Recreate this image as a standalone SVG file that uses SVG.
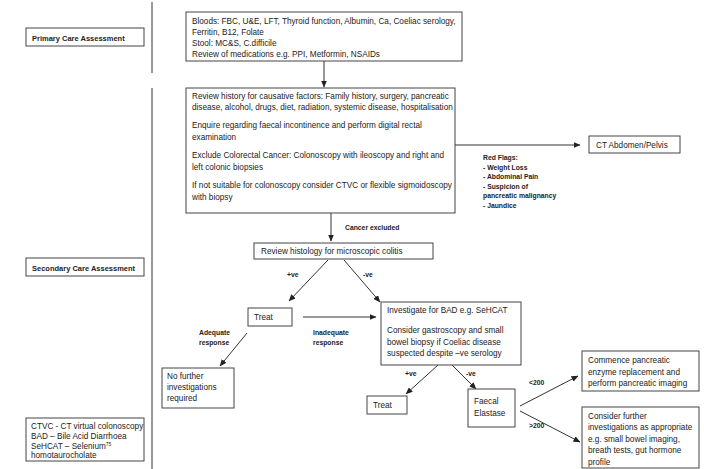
<svg xmlns="http://www.w3.org/2000/svg" width="704" height="469" viewBox="0 0 704 469">
<style>
.box{fill:#fff;stroke:#444;stroke-width:1}
.t{font-family:"Liberation Sans",Arial,sans-serif;font-size:8.2px;fill:#222}
.b{font-family:"Liberation Sans",Arial,sans-serif;font-size:7.5px;font-weight:bold;fill:#222}
.rf{font-family:"Liberation Sans",Arial,sans-serif;font-size:6.8px;font-weight:bold;fill:#222}
.c{stroke:#333;stroke-width:1;fill:none}
</style>
<defs>
<marker id="ah" markerWidth="7" markerHeight="6" refX="6.5" refY="3" orient="auto" markerUnits="userSpaceOnUse">
<path d="M0,0 L7,3 L0,6 Z" fill="#222"/>
</marker>
</defs>
<rect width="704" height="469" fill="#fff"/>

<g id="dividers">
<line class="c" x1="152" y1="2" x2="152" y2="73"/>
<line class="c" x1="152" y1="88" x2="152" y2="469"/>
</g>

<g id="connectors">
<line class="c" x1="324" y1="61" x2="324" y2="87" marker-end="url(#ah)"/>
<line class="c" x1="455" y1="145" x2="580" y2="145" marker-end="url(#ah)"/>
<line class="c" x1="331" y1="213" x2="331" y2="241" marker-end="url(#ah)"/>
<line class="c" x1="328" y1="260" x2="289" y2="301" marker-end="url(#ah)"/>
<line class="c" x1="344" y1="260" x2="380" y2="302" marker-end="url(#ah)"/>
<line class="c" x1="303" y1="317" x2="376" y2="317" marker-end="url(#ah)"/>
<line class="c" x1="247" y1="333" x2="220" y2="366" marker-end="url(#ah)"/>
<line class="c" x1="438" y1="365" x2="406" y2="394" marker-end="url(#ah)"/>
<line class="c" x1="452" y1="365" x2="476" y2="389" marker-end="url(#ah)"/>
<line class="c" x1="520" y1="406" x2="578" y2="376" marker-end="url(#ah)"/>
<line class="c" x1="520" y1="411" x2="580" y2="442" marker-end="url(#ah)"/>
</g>

<g id="primary-care">
<rect class="box" x="26" y="28" width="118" height="18"/>
<text class="b" x="32" y="40.5">Primary Care Assessment</text>
</g>

<g id="secondary-care">
<rect class="box" x="26" y="258" width="118" height="18"/>
<text class="b" x="32" y="270.5">Secondary Care Assessment</text>
</g>

<g id="legend">
<rect class="box" x="26" y="418" width="118" height="43"/>
<text class="t" x="31" y="428.5">CTVC - CT virtual colonoscopy</text>
<text class="t" x="31" y="438.5">BAD – Bile Acid Diarrhoea</text>
<text class="t" x="31" y="448.5">SeHCAT – Selenium<tspan font-size="5" dy="-3">75</tspan></text>
<text class="t" x="31" y="458">homotaurocholate</text>
</g>

<g id="bloods">
<rect class="box" x="186" y="12" width="276" height="49"/>
<text class="t" x="192" y="23.5">Bloods: FBC, U&amp;E, LFT,  Thyroid function, Albumin, Ca, Coeliac serology,</text>
<text class="t" x="192" y="35">Ferritin, B12, Folate</text>
<text class="t" x="192" y="46">Stool: MC&amp;S, C.difficile</text>
<text class="t" x="192" y="57">Review of medications e.g. PPI, Metformin, NSAIDs</text>
</g>

<g id="review-history">
<rect class="box" x="186" y="88" width="269" height="125"/>
<text class="t" x="192" y="98.5">Review history for causative factors: Family history, surgery, pancreatic</text>
<text class="t" x="192" y="110">disease, alcohol, drugs, diet, radiation, systemic disease, hospitalisation</text>
<text class="t" x="192" y="128">Enquire regarding faecal incontinence and perform digital rectal</text>
<text class="t" x="192" y="139.5">examination</text>
<text class="t" x="192" y="158">Exclude Colorectal Cancer: Colonoscopy with ileoscopy and right and</text>
<text class="t" x="192" y="169.5">left colonic biopsies</text>
<text class="t" x="192" y="188">If not suitable for colonoscopy consider CTVC or flexible sigmoidoscopy</text>
<text class="t" x="192" y="199.5">with biopsy</text>
</g>

<g id="red-flags">
<text class="rf" x="483" y="160">Red Flags:</text>
<text class="rf" x="483" y="169.5">- Weight Loss</text>
<text class="rf" x="483" y="179">- Abdominal  Pain</text>
<text class="rf" x="483" y="188.5">- Suspicion of</text>
<text class="rf" x="483" y="198">pancreatic malignancy</text>
<text class="rf" x="483" y="207.5">- Jaundice</text>
</g>

<g id="ct-abdomen">
<rect class="box" x="589" y="136" width="91" height="17"/>
<text class="t" x="596" y="147.5">CT Abdomen/Pelvis</text>
</g>

<g id="labels">
<text class="rf" x="345" y="230">Cancer excluded</text>
<text class="rf" x="287" y="277">+ve</text>
<text class="rf" x="363" y="277">-ve</text>
<text class="rf" x="199" y="335">Adequate</text>
<text class="rf" x="199" y="345">response</text>
<text class="rf" x="313" y="335">Inadequate</text>
<text class="rf" x="313" y="345">response</text>
<text class="rf" x="405" y="376">+ve</text>
<text class="rf" x="466" y="376">-ve</text>
<text class="rf" x="529" y="385">&lt;200</text>
<text class="rf" x="529" y="428">&gt;200</text>
</g>

<g id="review-histology">
<rect class="box" x="254" y="243" width="179" height="16"/>
<text class="t" x="261" y="254">Review histology for microscopic colitis</text>
</g>

<g id="treat-1">
<rect class="box" x="248" y="308" width="44" height="18"/>
<text class="t" x="254" y="320">Treat</text>
</g>

<g id="no-further">
<rect class="box" x="162" y="368" width="72" height="40"/>
<text class="t" x="167" y="379">No further</text>
<text class="t" x="167" y="390">investigations</text>
<text class="t" x="167" y="401">required</text>
</g>

<g id="investigate-bad">
<rect class="box" x="381" y="302" width="140" height="63"/>
<text class="t" x="387" y="313">Investigate for BAD e.g.  SeHCAT</text>
<text class="t" x="387" y="333">Consider gastroscopy and small</text>
<text class="t" x="387" y="344.5">bowel biopsy if Coeliac disease</text>
<text class="t" x="387" y="356">suspected despite –ve serology</text>
</g>

<g id="treat-2">
<rect class="box" x="367" y="396" width="40" height="18"/>
<text class="t" x="373" y="408">Treat</text>
</g>

<g id="faecal-elastase">
<rect class="box" x="468" y="389" width="47" height="38"/>
<text class="t" x="474" y="404">Faecal</text>
<text class="t" x="474" y="416">Elastase</text>
</g>

<g id="commence-pancreatic">
<rect class="box" x="582" y="351" width="117" height="40"/>
<text class="t" x="588" y="363">Commence  pancreatic</text>
<text class="t" x="588" y="374.5">enzyme  replacement and</text>
<text class="t" x="588" y="386">perform pancreatic imaging</text>
</g>

<g id="consider-further">
<rect class="box" x="582" y="407" width="117" height="61"/>
<text class="t" x="588" y="418.5">Consider further</text>
<text class="t" x="588" y="430">investigations as appropriate</text>
<text class="t" x="588" y="441.5">e.g.  small bowel imaging,</text>
<text class="t" x="588" y="453">breath tests, gut hormone</text>
<text class="t" x="588" y="464.5">profile</text>
</g>
</svg>
